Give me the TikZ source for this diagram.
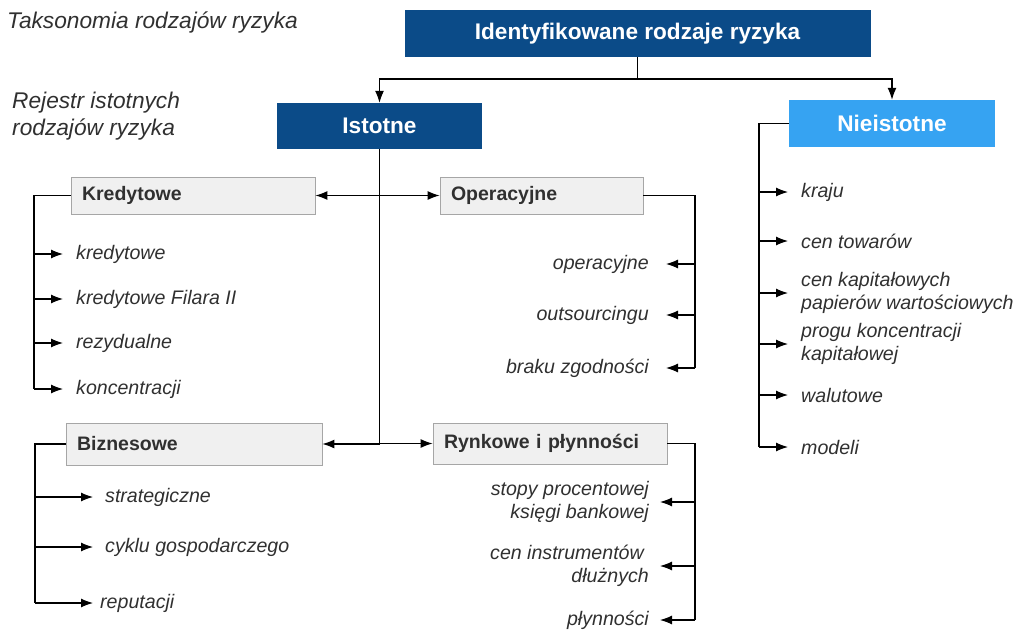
\documentclass[tikz,border=0pt]{standalone}
\usepackage{fontspec}
\setmainfont{Liberation Sans}
\usetikzlibrary{arrows.meta}
\definecolor{dkblue}{HTML}{0B4B88}
\definecolor{ltblue}{HTML}{36A3F2}
\definecolor{boxgray}{HTML}{F0F0F0}
\definecolor{boxline}{HTML}{A6A6A6}
\definecolor{txt}{HTML}{303030}
\begin{document}
\begin{tikzpicture}[x=1pt,y=-1pt,
  bluebox/.style={draw=none, fill=dkblue, text=white, font=\fontsize{22.6}{26}\selectfont\bfseries, inner sep=0pt},
  graybox/.style={draw=boxline, fill=boxgray, line width=0.8pt, text=txt, font=\fontsize{19.5}{23}\selectfont\bfseries, align=left, inner xsep=11pt, inner ysep=0pt},
  item/.style={text=txt, font=\fontsize{19.6}{22.5}\selectfont\itshape, inner sep=0pt},
  titletext/.style={text=txt, font=\fontsize{22.7}{27}\selectfont\itshape, inner sep=0pt, anchor=west, align=left},
  arr/.style={-{Latex[length=12pt,width=9pt]}, line width=1.1pt},
  ln/.style={line width=1.1pt},
]
\useasboundingbox (0,0) rectangle (1016,634);

% titles
\node[titletext] (t1) at (7,22) {Taksonomia rodzajów ryzyka};
\node[titletext] (t2) at (12,116) {Rejestr istotnych\\rodzajów ryzyka};

% main boxes
\node[bluebox, minimum width=466pt, minimum height=47pt] (top) at (637.5,33.5) {Identyfikowane rodzaje ryzyka};
\node[bluebox, minimum width=205pt, minimum height=46pt] (ist) at (379.5,126) {Istotne};
\node[bluebox, fill=ltblue, minimum width=206pt, minimum height=47pt] (nie) at (892,123.5) {Nieistotne};
\coordinate (j) at (637.5,79);
\draw[ln] (top.south) -- (j);
\draw[arr] (j) -| (ist.north);
\draw[arr] (j) -| (nie.north);

% gray boxes
\node[graybox, text width=222pt, minimum height=37pt] (kred) at (193,195.5) {Kredytowe};
\node[graybox, text width=181pt, minimum height=37pt] (oper) at (541.5,195.5) {Operacyjne};
\node[graybox, text width=234pt, minimum height=42pt] (bizn) at (194,444) {Biznesowe};
\node[graybox, text width=212pt, minimum height=41pt] (rynk) at (550,443.5) {Rynkowe i płynności};

% istotne connectors
\coordinate (ibot) at (ist.south |- bizn.east);
\draw[ln] (ist.south) -- (ibot);
\draw[arr] (ist.south |- kred.east) -- (kred.east);
\draw[arr] (ist.south |- oper.west) -- (oper.west);
\draw[arr] (ibot) -- (bizn.east);
\draw[arr] (ist.south |- rynk.west) -- (rynk.west);

% Kredytowe items
\node[item, anchor=west] (k1) at (76,254) {kredytowe};
\node[item, anchor=west] (k2) at (76,299) {kredytowe Filara II};
\node[item, anchor=west] (k3) at (76,343) {rezydualne};
\node[item, anchor=west] (k4) at (76,389) {koncentracji};
\coordinate (ks) at (34,195.5);
\draw[ln] (kred.west) -- (ks) -- (ks |- k4.west);
\foreach \n in {k1,k2,k3,k4} \draw[arr, shorten >=13pt] (ks |- \n.west) -- (\n.west);

% Operacyjne items
\node[item, anchor=east] (o1) at (649,264) {operacyjne};
\node[item, anchor=east] (o2) at (649,315) {outsourcingu};
\node[item, anchor=east] (o3) at (649,368) {braku zgodności};
\coordinate (os) at (695,195.5);
\draw[ln] (oper.east) -- (os) -- (os |- o3.east);
\foreach \n in {o1,o2,o3} \draw[arr, shorten >=17pt] (os |- \n.east) -- (\n.east);

% Nieistotne items
\node[item, anchor=west, align=left] (n1) at (801,192) {kraju};
\node[item, anchor=west, align=left] (n2) at (801,241) {cen towarów};
\node[item, anchor=west, align=left] (n3) at (801,293) {cen kapitałowych\\papierów wartościowych};
\node[item, anchor=west, align=left] (n4) at (801,344) {progu koncentracji\\kapitałowej};
\node[item, anchor=west, align=left] (n5) at (801,395) {walutowe};
\node[item, anchor=west, align=left] (n6) at (801,447) {modeli};
\coordinate (ns) at (759,123.5);
\draw[ln] (nie.west) -- (ns) -- (ns |- n6.west);
\foreach \n in {n1,n2,n3,n4,n5,n6} \draw[arr, shorten >=13pt] (ns |- \n.west) -- (\n.west);

% Biznesowe items
\node[item, anchor=west] (b1) at (105,497) {strategiczne};
\node[item, anchor=west] (b2) at (105,547) {cyklu gospodarczego};
\node[item, anchor=west] (b3) at (100,603) {reputacji};
\coordinate (bs) at (35,444);
\draw[ln] (bizn.west) -- (bs) -- (bs |- b3.west);
\foreach \n/\s in {b1/12,b2/12,b3/7} \draw[arr, shorten >=\s pt] (bs |- \n.west) -- (\n.west);

% Rynkowe items
\node[item, anchor=east, align=right] (r1) at (649,502) {stopy procentowej\\księgi bankowej};
\node[item, anchor=east, align=right] (r2) at (649,566) {cen instrumentów\hspace*{5pt}\\dłużnych};
\node[item, anchor=east, align=right] (r3) at (649,620) {płynności};
\coordinate (rs) at (695,443.5);
\draw[ln] (rynk.east) -- (rs) -- (rs |- r3.east);
\foreach \n in {r1,r2,r3} \draw[arr, shorten >=11pt] (rs |- \n.east) -- (\n.east);
\end{tikzpicture}
\end{document}
